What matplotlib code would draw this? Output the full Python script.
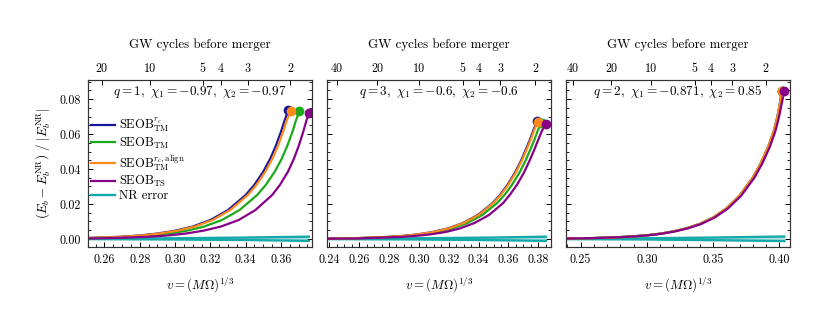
import matplotlib
matplotlib.use("Agg")
import matplotlib.pyplot as plt
from matplotlib.ticker import MultipleLocator, FixedLocator

plt.rcParams.update({
    "font.family": "serif",
    "font.serif": ["cmr10", "DejaVu Serif"],
    "mathtext.fontset": "cm",
    "axes.formatter.use_mathtext": True,
    "axes.unicode_minus": False,
})

# ---------------- data ----------------
labels = [r"SEOB$^{r_c}_{\rm TM}$", r"SEOB$_{\rm TM}$", r"SEOB$^{r_c,{\rm align}}_{\rm TM}$",
          r"SEOB$_{\rm TS}$", "NR error"]
colors = ["#16169a", "#1aaa1a", "#ff8a1a", "#870087", "#14a8a8"]

titles = [r"$q=1,\ \chi_1=-0.97,\ \chi_2=-0.97$",
          r"$q=3,\ \chi_1=-0.6,\ \chi_2=-0.6$",
          r"$q=2,\ \chi_1=-0.871,\ \chi_2=0.85$"]

# Panel 1
p1_blue_v = [0.2515, 0.26, 0.27, 0.28, 0.29, 0.30, 0.31, 0.32, 0.33, 0.34, 0.345, 0.350, 0.354, 0.357, 0.360, 0.362, 0.3642]
p1_blue_y = [0.0006, 0.0009, 0.0013, 0.0020, 0.0031, 0.0047, 0.0071, 0.0108, 0.0165, 0.0251, 0.0310, 0.0385, 0.0460, 0.0530, 0.0612, 0.0675, 0.0737]
p1_green_v = [0.2515, 0.2665, 0.2765, 0.2865, 0.2965, 0.3065, 0.3165, 0.3265, 0.3365, 0.3465, 0.3515, 0.3565, 0.3605, 0.3635, 0.3665, 0.3684, 0.3704]
p1_green_y = [0.00046, 0.0009, 0.0013, 0.0020, 0.0031, 0.0047, 0.0071, 0.0108, 0.0165, 0.0251, 0.0310, 0.0385, 0.0460, 0.0530, 0.0612, 0.0675, 0.0730]
p1_orange_v = [0.2515, 0.26, 0.2712, 0.2812, 0.2912, 0.3012, 0.3112, 0.3212, 0.3312, 0.3412, 0.3462, 0.3512, 0.3552, 0.3582, 0.3612, 0.3632, 0.3655]
p1_orange_y = [0.0006, 0.00086, 0.0013, 0.0020, 0.0031, 0.0047, 0.0071, 0.0108, 0.0165, 0.0251, 0.0310, 0.0385, 0.0460, 0.0530, 0.0612, 0.0675, 0.0733]
p1_purple_v = [0.2515, 0.26, 0.266, 0.276, 0.286, 0.296, 0.306, 0.316, 0.326, 0.336, 0.3455, 0.355, 0.3595, 0.3640, 0.3674, 0.3700, 0.3726, 0.3744, 0.3758]
p1_purple_y = [0.0003, 0.00045, 0.0006, 0.0009, 0.0013, 0.0020, 0.0031, 0.0047, 0.0071, 0.0108, 0.0165, 0.0251, 0.0310, 0.0385, 0.0460, 0.0530, 0.0612, 0.0675, 0.0720]
p1_nr_v = [0.2515, 0.30, 0.34, 0.3758]
p1_nr_hi = [0.0001, 0.0004, 0.0008, 0.0013]
p1_nr_lo = [-0.0001, -0.0003, -0.0006, -0.0011]

# Panel 2
p2_blue_v = [0.2395, 0.26, 0.2795, 0.2895, 0.2995, 0.3095, 0.3195, 0.3295, 0.3395, 0.3495, 0.3545, 0.3595, 0.3645, 0.3685, 0.3715, 0.3745, 0.3770, 0.3793]
p2_blue_y = [0.00022, 0.00051, 0.00117, 0.00176, 0.00265, 0.0040, 0.0060, 0.0091, 0.0137, 0.0206, 0.0253, 0.0311, 0.0381, 0.0449, 0.0508, 0.0570, 0.0628, 0.0673]
p2_green_v = [0.2395, 0.26, 0.2825, 0.2925, 0.3025, 0.3125, 0.3225, 0.3325, 0.3425, 0.3525, 0.3575, 0.3625, 0.3675, 0.3715, 0.3745, 0.3775, 0.3800, 0.3826]
p2_green_y = [0.00020, 0.00046, 0.00117, 0.00176, 0.00265, 0.0040, 0.0060, 0.0091, 0.0137, 0.0206, 0.0253, 0.0311, 0.0381, 0.0449, 0.0508, 0.0570, 0.0628, 0.0665]
p2_orange_v = [0.2395, 0.26, 0.28, 0.29, 0.30, 0.31, 0.32, 0.33, 0.34, 0.35, 0.355, 0.36, 0.365, 0.369, 0.372, 0.375, 0.3775, 0.3798]
p2_orange_y = [0.00022, 0.00051, 0.00117, 0.00176, 0.00265, 0.0040, 0.0060, 0.0091, 0.0137, 0.0206, 0.0253, 0.0311, 0.0381, 0.0449, 0.0508, 0.0570, 0.0628, 0.0670]
p2_purple_v = [0.2395, 0.26, 0.288, 0.298, 0.308, 0.318, 0.3275, 0.3372, 0.347, 0.3565, 0.3610, 0.3658, 0.3705, 0.3742, 0.3772, 0.3801, 0.3826, 0.3852]
p2_purple_y = [0.00015, 0.00034, 0.00117, 0.00176, 0.00265, 0.0040, 0.0060, 0.0091, 0.0137, 0.0206, 0.0253, 0.0311, 0.0381, 0.0449, 0.0508, 0.0570, 0.0622, 0.0655]
p2_nr_v = [0.2395, 0.30, 0.35, 0.3852]
p2_nr_hi = [0.0001, 0.0004, 0.0008, 0.0013]
p2_nr_lo = [-0.0001, -0.0003, -0.0007, -0.0011]

# Panel 3
p3_orange_v = [0.2395, 0.26, 0.28, 0.29, 0.30, 0.31, 0.32, 0.33, 0.34, 0.35, 0.36, 0.37, 0.38, 0.386, 0.3917, 0.396, 0.3985, 0.4003, 0.4018]
p3_orange_y = [0.00026, 0.00052, 0.00106, 0.0015, 0.0021, 0.0030, 0.0043, 0.0061, 0.0086, 0.0122, 0.0174, 0.0247, 0.0350, 0.0432, 0.0527, 0.0620, 0.0695, 0.0765, 0.0844]
p3_blue_v = p3_orange_v
p3_blue_y = p3_orange_y
p3_green_v = p3_orange_v
p3_green_y = p3_orange_y
p3_purple_v = [0.2395, 0.26, 0.2812, 0.2912, 0.3012, 0.3112, 0.3212, 0.3312, 0.3412, 0.3512, 0.3612, 0.3712, 0.3812, 0.3872, 0.3929, 0.3972, 0.3997, 0.4016, 0.4038]
p3_purple_y = [0.00024, 0.00050, 0.00106, 0.0015, 0.0021, 0.0030, 0.0043, 0.0061, 0.0086, 0.0122, 0.0174, 0.0247, 0.0350, 0.0432, 0.0527, 0.0620, 0.0695, 0.0765, 0.0847]
p3_nr_v = [0.2395, 0.30, 0.35, 0.4038]
p3_nr_hi = [0.0001, 0.0004, 0.0008, 0.0014]
p3_nr_lo = [-0.0001, -0.0003, -0.0007, -0.0012]

# Top axis: GW cycles before merger (tick positions in v)
top_labels = [["20", "10", "5", "4", "3", "2"],
              ["40", "20", "10", "5", "4", "3", "2"],
              ["40", "20", "10", "5", "4", "3", "2"]]
top_pos = [[0.2585, 0.2861, 0.3157, 0.3259, 0.3411, 0.3653],
           [0.2449, 0.2723, 0.3003, 0.3293, 0.3400, 0.3546, 0.3780],
           [0.2444, 0.2729, 0.3031, 0.3363, 0.3481, 0.3644, 0.3897]]

xlims = [(0.2507, 0.3776), (0.2385, 0.3885), (0.2390, 0.4081)]
xmajor = [0.02, 0.02, 0.05]
xminor = [0.005, 0.005, 0.01]
ylim = (-0.0046, 0.0909)

panels = [
    [(p1_blue_v, p1_blue_y), (p1_green_v, p1_green_y), (p1_orange_v, p1_orange_y), (p1_purple_v, p1_purple_y), (p1_nr_v, p1_nr_hi, p1_nr_lo)],
    [(p2_blue_v, p2_blue_y), (p2_green_v, p2_green_y), (p2_orange_v, p2_orange_y), (p2_purple_v, p2_purple_y), (p2_nr_v, p2_nr_hi, p2_nr_lo)],
    [(p3_blue_v, p3_blue_y), (p3_green_v, p3_green_y), (p3_orange_v, p3_orange_y), (p3_purple_v, p3_purple_y), (p3_nr_v, p3_nr_hi, p3_nr_lo)],
]

# ---------------- figure ----------------
fig = plt.figure(figsize=(8.3, 3.29), dpi=100)
lefts = [88 / 830, 327 / 830, 566 / 830]
width = 224 / 830
bottom = 1 - 247 / 329
height = (247 - 80) / 329

TICK_FS = 8.7
LABEL_FS = 9.3

for i in range(3):
    ax = fig.add_axes([lefts[i], bottom, width, height])
    data = panels[i]
    handles = []
    for j in range(4):
        v, y = data[j]
        h, = ax.plot(v, y, color=colors[j], lw=1.6, label=labels[j], zorder=3 + j * 0.1,
                     solid_joinstyle="round")
        handles.append(h)
        ax.plot(v[-1], y[-1], "o", color=colors[j], ms=6, zorder=4 + j * 0.1)
    nv, nhi, nlo = data[4]
    ax.fill_between(nv, nlo, nhi, color=colors[4], alpha=0.35, lw=0, zorder=2)
    ax.plot(nv, nhi, color=colors[4], lw=1.7, zorder=2)
    hnr, = ax.plot(nv, nlo, color=colors[4], lw=1.7, zorder=2, label=labels[4])
    handles.append(hnr)

    ax.set_xlim(*xlims[i])
    ax.set_ylim(*ylim)
    ax.xaxis.set_major_locator(MultipleLocator(xmajor[i]))
    ax.xaxis.set_minor_locator(MultipleLocator(xminor[i]))
    ax.yaxis.set_major_locator(MultipleLocator(0.02))
    ax.yaxis.set_minor_locator(MultipleLocator(0.005))
    ax.xaxis.set_major_formatter(plt.FormatStrFormatter("%.2f"))
    ax.yaxis.set_major_formatter(plt.FormatStrFormatter("%.2f"))
    ax.tick_params(which="both", direction="in", right=True, top=False, labelsize=TICK_FS)
    ax.tick_params(which="major", length=3.5, width=0.7, pad=5)
    ax.tick_params(which="minor", length=2, width=0.6)
    if i > 0:
        ax.tick_params(labelleft=False)
    for s in ax.spines.values():
        s.set_linewidth(0.8)
        s.set_color("#333333")
    ax.set_xlabel(r"$v=(M\Omega)^{1/3}$", fontsize=LABEL_FS, labelpad=6.5)
    if i == 0:
        ax.set_ylabel(r"$\left(E_b - E_b^{\rm NR}\right)\ /\ |E_b^{\rm NR}|$", fontsize=LABEL_FS, labelpad=5)
        ax.legend(handles=handles, loc="upper left", bbox_to_anchor=(-0.01, 0.815), frameon=False,
                  fontsize=9, handlelength=1.9, handletextpad=0.35, labelspacing=0.1,
                  borderaxespad=0.0, borderpad=0.4)
    ax.text(0.5, 0.93, titles[i], transform=ax.transAxes, ha="center", va="center", fontsize=9.5)

    ax2 = ax.twiny()
    ax2.set_xlim(*xlims[i])
    ax2.xaxis.set_major_locator(FixedLocator(top_pos[i]))
    ax2.set_xticklabels(top_labels[i])
    ax2.tick_params(which="both", direction="in", labelsize=TICK_FS, length=3.5, width=0.7, pad=3.5)
    ax2.xaxis.set_minor_locator(FixedLocator([]))
    for s in ax2.spines.values():
        s.set_linewidth(0.8)
        s.set_color("#333333")
    ax2.set_title("GW cycles before merger", fontsize=LABEL_FS, pad=11)

fig.savefig("out.png", dpi=100)
